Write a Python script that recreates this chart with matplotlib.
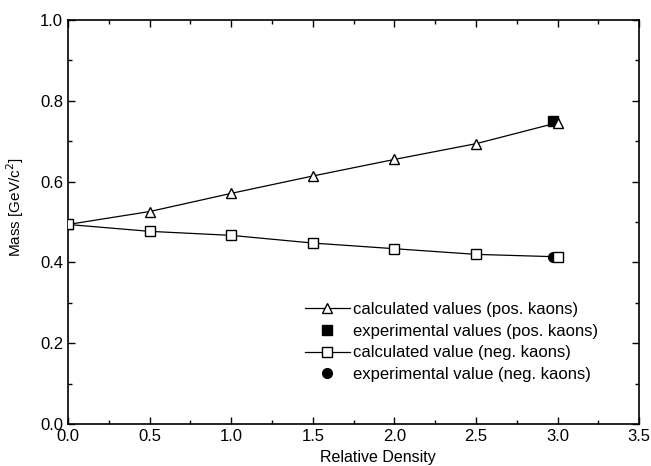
import matplotlib.pyplot as plt
from matplotlib.ticker import MultipleLocator

plt.rcParams['font.family'] = ['Liberation Sans', 'DejaVu Sans']

# data
density = [0.0, 0.5, 1.0, 1.5, 2.0, 2.5, 3.0]
mass_pos = [0.494, 0.526, 0.571, 0.614, 0.655, 0.694, 0.746]
mass_neg = [0.494, 0.477, 0.467, 0.448, 0.434, 0.420, 0.414]
exp_density = [2.97]
exp_pos = [0.751]
exp_neg = [0.414]

fig, ax = plt.subplots(figsize=(6.51, 4.66), dpi=100)
fig.subplots_adjust(left=0.1045, right=0.982, top=0.957, bottom=0.090)

ax.plot(density, mass_pos, color='black', lw=0.9, marker='^', ms=7.5,
        mfc='white', mec='black', mew=1.0, zorder=3,
        label='calculated values (pos. kaons)')
ax.plot(exp_density, exp_pos, ls='none', marker='s', ms=7, color='black',
        zorder=2, label='experimental values (pos. kaons)')
ax.plot(density, mass_neg, color='black', lw=0.9, marker='s', ms=7,
        mfc='white', mec='black', mew=1.0, zorder=3,
        label='calculated value (neg. kaons)')
ax.plot(exp_density, exp_neg, ls='none', marker='o', ms=7, color='black',
        zorder=2, label='experimental value (neg. kaons)')

ax.set_xlim(0, 3.5)
ax.set_ylim(0, 1.0)
ax.xaxis.set_major_locator(MultipleLocator(0.5))
ax.xaxis.set_minor_locator(MultipleLocator(0.25))
ax.yaxis.set_major_locator(MultipleLocator(0.2))
ax.yaxis.set_minor_locator(MultipleLocator(0.1))
ax.xaxis.set_major_formatter(plt.FormatStrFormatter('%.1f'))
ax.yaxis.set_major_formatter(plt.FormatStrFormatter('%.1f'))
ax.tick_params(which='both', direction='in', top=True, right=True,
               labelsize=12, width=1.0)
ax.tick_params(which='major', length=5)
ax.tick_params(which='minor', length=3)
for s in ax.spines.values():
    s.set_linewidth(1.2)

ax.set_xlabel('Relative Density', fontsize=11.5, labelpad=1)
ax.xaxis.set_label_coords(0.542, -0.065)
ax.set_ylabel('Mass [GeV/c$^2$]', fontsize=11)
ax.yaxis.set_label_coords(-0.073, 0.537)

ax.legend(loc='upper left', bbox_to_anchor=(0.414, 0.302), frameon=False,
          fontsize=12, handlelength=2.7, handletextpad=0.2,
          labelspacing=0.4, borderpad=0, borderaxespad=0)

fig.savefig('out.png', dpi=100)
